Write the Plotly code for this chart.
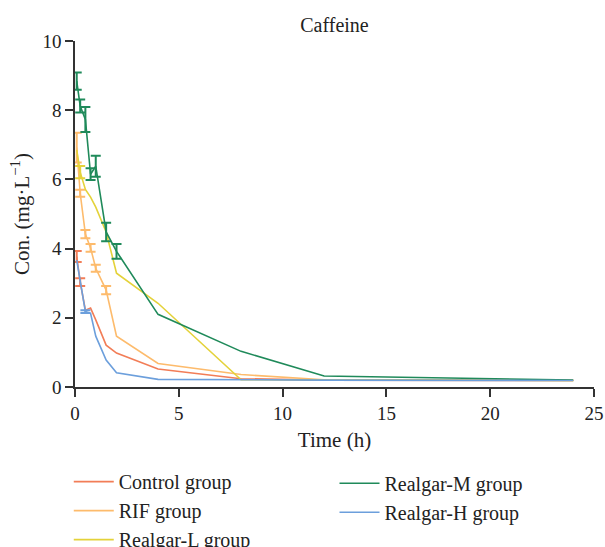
import plotly.graph_objects as go

# ---- data ----
time_h = [0.083, 0.25, 0.5, 0.75, 1, 1.5, 2, 4, 8, 12, 24]

control = [3.77, 3.03, 2.22, 2.28, 1.94, 1.21, 0.98, 0.52, 0.24, 0.20, 0.19]
control_sd = [0.16, 0.11]

rif = [6.92, 5.60, 4.42, 4.02, 3.43, 2.80, 1.47, 0.68, 0.36, 0.21, 0.19]
rif_sd = [0.43, 0.10, 0.12, 0.11, 0.10, 0.12]

realgar_l = [6.85, 6.21, 5.71, 5.49, 5.20, 4.48, 3.29, 2.42, 0.21, 0.20, 0.19]
realgar_l_sd = [0.18]
realgar_l_sd_idx = [1]

realgar_m = [8.84, 8.12, 7.73, 6.15, 6.38, 4.48, 3.92, 2.10, 1.03, 0.32, 0.20]
realgar_m_sd = [0.25, 0.19, 0.36, 0.17, 0.30, 0.27, 0.21]

realgar_h = [3.67, 3.05, 2.18, 2.13, 1.47, 0.78, 0.41, 0.22, 0.20, 0.20, 0.19]
realgar_h_sd = [0.04]
realgar_h_sd_idx = [2]

x_ticks = [0, 5, 10, 15, 20, 25]
y_ticks = [0, 2, 4, 6, 8, 10]

FONT = "Liberation Serif"
series = [
    ("Control group", control, control_sd, None, "#F27D57", "legend"),
    ("RIF group", rif, rif_sd, None, "#FDBB6C", "legend"),
    ("Realgar-L group", realgar_l, realgar_l_sd, realgar_l_sd_idx, "#E4D23A", "legend"),
    ("Realgar-M group", realgar_m, realgar_m_sd, None, "#1F8A5A", "legend2"),
    ("Realgar-H group", realgar_h, realgar_h_sd, realgar_h_sd_idx, "#6C9FDC", "legend2"),
]

fig = go.Figure()
for name, vals, sd, idx, color, leg in series:
    fig.add_trace(go.Scatter(
        x=time_h, y=vals, mode="lines", name=name, legend=leg,
        line=dict(color=color, width=1.6), hoverinfo="skip",
    ))
    if idx is None:
        idx = list(range(len(sd)))
    fig.add_trace(go.Scatter(
        x=[time_h[i] for i in idx], y=[vals[i] for i in idx], mode="markers",
        marker=dict(size=1, opacity=0, color=color), showlegend=False,
        error_y=dict(type="data", array=sd, color=color, thickness=2, width=5),
        hoverinfo="skip",
    ))

axis_common = dict(
    showline=True, linecolor="#333333", linewidth=1.5,
    ticks="outside", ticklen=8, tickwidth=1.5, tickcolor="#333333",
    showgrid=False, zeroline=False, automargin=False,
    tickfont=dict(family=FONT, size=19, color="#222222"),
    title_font=dict(family=FONT, size=21, color="#222222"),
)

fig.update_layout(
    width=605, height=547,
    margin=dict(l=75, r=11, t=41, b=160, autoexpand=False),
    paper_bgcolor="white", plot_bgcolor="white",
    title=dict(text="Caffeine", x=0.5, xref="paper", y=1 - 25 / 547, yref="container",
               yanchor="middle", font=dict(family=FONT, size=20, color="#222222")),
    xaxis=dict(range=[0, 25], tickvals=x_ticks, title=dict(text="Time (h)", standoff=10), **axis_common),
    yaxis=dict(range=[0, 10], tickvals=y_ticks, title=dict(text="Con. (mg·L<sup>−1</sup>)", standoff=7), **axis_common),
    legend=dict(x=-0.012, xanchor="left", y=-0.217, yanchor="top", orientation="v",
                font=dict(family=FONT, size=20, color="#222222"), bgcolor="rgba(0,0,0,0)",
                itemwidth=40, tracegroupgap=0),
    legend2=dict(x=0.5, xanchor="left", y=-0.222, yanchor="top", orientation="v",
                 font=dict(family=FONT, size=20, color="#222222"), bgcolor="rgba(0,0,0,0)",
                 itemwidth=40, tracegroupgap=0),
    showlegend=True,
)

fig.write_html("out.html", config={"displayModeBar": False},
               post_script="document.body.style.margin='0px';")
